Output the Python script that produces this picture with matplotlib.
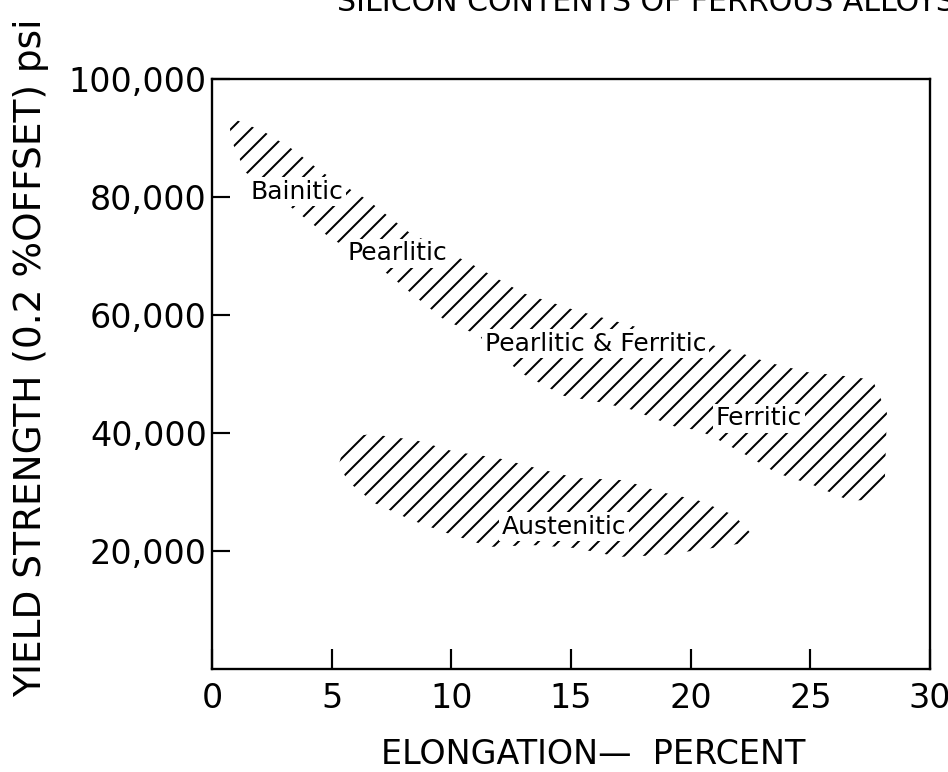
import numpy as np
import matplotlib
matplotlib.use('Agg')
import matplotlib.pyplot as plt
from matplotlib.ticker import FuncFormatter

# upper band (bainitic -> ferritic), elongation % / yield psi
band_upper_x = [0.7, 2.2, 3.4, 4.6, 6.5, 8.2, 10.9, 13.0, 15.1, 17.7, 21.7, 23.2, 24.9, 26.8, 27.6, 28.2]
band_upper_y = [93600, 91000, 88000, 84200, 79500, 74100, 68500, 63700, 60900, 58000,
                54100, 52000, 50300, 49500, 49000, 43400]
band_lower_x = [0.8, 1.4, 3.7, 4.9, 6.2, 7.4, 8.5, 9.7, 11.1, 12.9, 14.7, 16.1, 17.5,
                19.4, 20.3, 21.0, 22.3, 23.6, 25.1, 26.6, 27.6, 28.1]
band_lower_y = [89700, 84200, 77000, 73200, 70000, 66800, 63100, 59200, 56600, 50200,
                46300, 45300, 44000, 41000, 40500, 39200, 36300, 33200, 31200, 28600,
                28600, 30300]

# austenitic band
aus_upper_x = [5.3, 5.6, 6.65, 8.5, 10.15, 11.9, 13.5, 15.2, 17.2, 18.75, 20.3, 21.8, 22.7]
aus_upper_y = [34600, 39300, 39800, 38800, 36800, 35800, 34100, 32400, 32000, 30000,
               28600, 26100, 22200]
aus_lower_x = [5.3, 5.7, 6.8, 8.3, 9.7, 11.6, 13.4, 15.2, 17.0, 18.8, 20.9, 22.3, 22.7]
aus_lower_y = [34600, 31700, 28100, 25300, 23200, 20700, 21000, 20500, 19000, 19300,
               20500, 21400, 22200]

region_names = ['Bainitic', 'Pearlitic', 'Pearlitic & Ferritic', 'Ferritic', 'Austenitic']
region_x = [1.6, 5.67, 11.4, 21.05, 12.1]
region_y = [80900, 70500, 55100, 42500, 24100]

x_ticks = [0, 5, 10, 15, 20, 25, 30]
y_ticks = [20000, 40000, 60000, 80000, 100000]

plt.rcParams['hatch.linewidth'] = 1.2

fig = plt.figure(figsize=(7.9, 772 / 120), dpi=120)
ax = fig.add_axes([212 / 948, 1 - 669 / 772, (930 - 212) / 948, (669 - 79) / 772])

ax.fill(np.concatenate([band_upper_x, band_lower_x[::-1]]),
        np.concatenate([band_upper_y, band_lower_y[::-1]]),
        facecolor='none', edgecolor='black', hatch='//', linewidth=0)
ax.fill(np.concatenate([aus_upper_x, aus_lower_x[::-1]]),
        np.concatenate([aus_upper_y, aus_lower_y[::-1]]),
        facecolor='none', edgecolor='black', hatch='//', linewidth=0)

for name, x, y in zip(region_names, region_x, region_y):
    ax.text(x, y, name, fontsize=15, ha='left', va='center',
            bbox=dict(facecolor='white', edgecolor='none', pad=1.5))

ax.set_xlim(0, 30)
ax.set_ylim(0, 100000)
ax.set_xticks(x_ticks)
ax.set_yticks(y_ticks)
ax.yaxis.set_major_formatter(FuncFormatter(lambda v, p: f'{int(v):,}'))
ax.tick_params(axis='x', direction='in', length=12, width=1.3, pad=8, labelsize=20)
ax.tick_params(axis='y', direction='in', length=11, width=1.3, pad=3, labelsize=20)
for s in ax.spines.values():
    s.set_linewidth(1.4)

fig.text(31 / 948, 1 - 358 / 772, 'YIELD STRENGTH (0.2 %OFFSET) psi', rotation=90,
         ha='center', va='center', fontsize=22.5)
fig.text(593 / 948, 1 - 755 / 772, 'ELONGATION—  PERCENT', ha='center', va='center',
         fontsize=20)
fig.text(337 / 948, 1 - 17 / 772, 'SILICON CONTENTS OF FERROUS ALLOYS', ha='left',
         va='bottom', fontsize=18)

fig.savefig('out.png', dpi=120)
